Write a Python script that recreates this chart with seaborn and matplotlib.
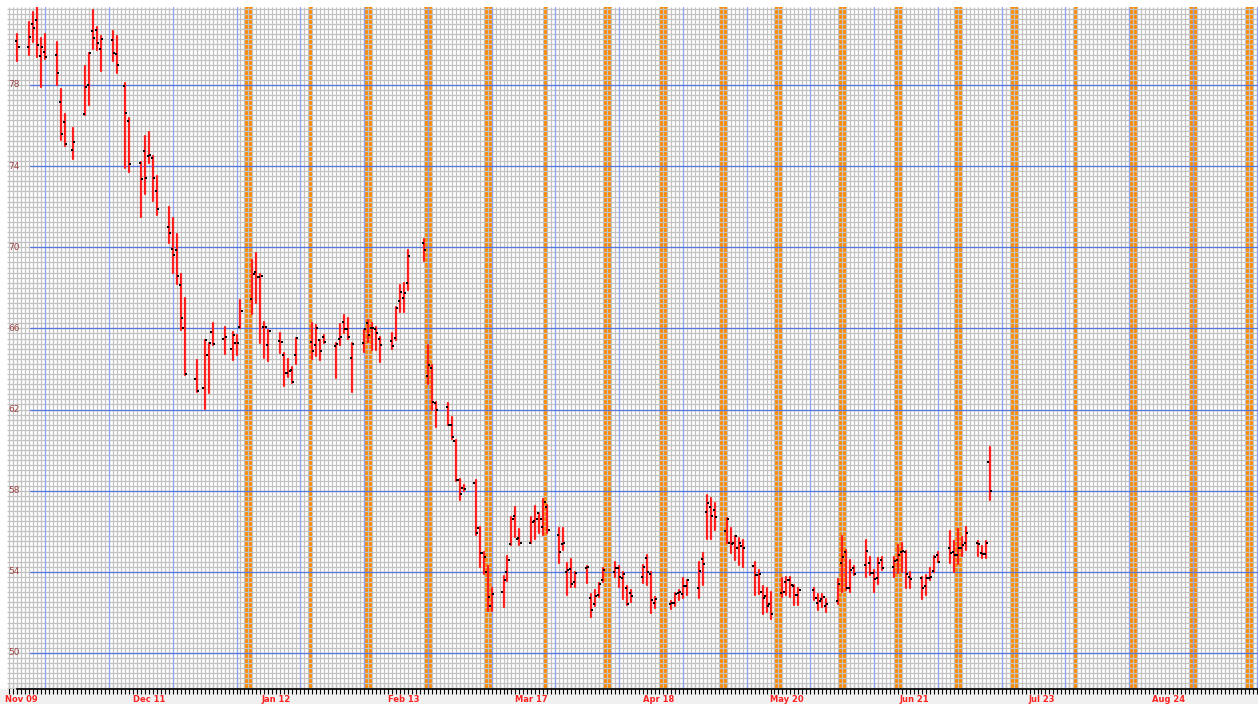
import numpy as np
import pandas as pd
import matplotlib
matplotlib.use("Agg")
import matplotlib.pyplot as plt
from matplotlib.patches import Rectangle
from matplotlib.ticker import MultipleLocator
import seaborn as sns

# sessions, as day offsets from Nov 09 (2024)
days = [-1, 2, 3, 4, 5, 6, 9, 10, 11, 13, 16, 17, 18, 19, 20, 23, 24, 26, 27,
        30, 31, 32, 33, 34, 37, 38, 39, 40, 41, 44, 46, 47, 48, 51, 53, 54, 55,
        58, 59, 60, 61, 62, 65, 66, 67, 68, 69, 73, 74, 75, 76, 79, 80, 81, 82, 83,
        86, 87, 88, 89, 90, 93, 94, 95, 96, 97, 101, 102, 103, 104, 107, 108, 109,
        110, 111, 114, 115, 116, 117, 118, 121, 122, 123, 124, 125, 128, 129, 130,
        131, 132, 135, 136, 137, 138, 139, 142, 143, 144, 145, 146, 149, 150, 151,
        152, 153, 156, 157, 158, 159, 163, 164, 165, 166, 167, 170, 171, 172, 173,
        174, 177, 178, 179, 180, 181, 184, 185, 186, 187, 188, 191, 192, 193, 194,
        195, 199, 200, 201, 202, 205, 206, 207, 208, 209, 212, 213, 214, 215, 216,
        219, 220, 221, 222, 223, 226, 227, 228, 229, 230, 233, 234, 235, 236, 237,
        240, 241, 242, 243]

highs = [80.49, 81.09, 81.59, 82.30, 80.32, 80.49, 80.10, 77.80, 76.57, 75.88, 78.95, 79.60,
         81.72, 80.86, 80.44, 80.68, 80.40, 78.10, 76.37, 74.18, 75.47, 75.68, 74.48, 73.49,
         72.00, 71.43, 70.64, 68.68, 67.48, 64.44, 65.42, 65.26, 66.25, 66.08, 65.84, 65.67,
         67.40, 69.37, 69.74, 68.67, 66.30, 65.92, 65.79, 64.77, 64.47, 64.10, 65.54, 66.28,
         66.15, 65.45, 65.70, 65.26, 66.20, 66.66, 66.50, 65.26, 65.92, 66.40, 66.25, 66.08,
         65.59, 65.75, 67.05, 68.14, 68.22, 69.87, 70.40, 65.18, 64.19, 62.38, 62.30, 61.64,
         60.48, 58.59, 58.26, 58.51, 56.21, 54.97, 54.31, 53.20, 53.80, 54.79, 56.70, 57.20,
         56.12, 56.70, 57.25, 56.90, 57.60, 57.30, 56.16, 56.16, 54.43, 54.62, 54.00, 54.30,
         52.91, 53.10, 53.44, 54.20, 54.50, 54.30, 53.98, 53.30, 53.10, 54.35, 54.84, 54.00,
         52.75, 52.56, 52.95, 53.10, 53.70, 53.60, 54.50, 54.92, 57.80, 57.64, 57.40, 56.65,
         56.16, 55.75, 55.66, 55.58, 54.50, 54.10, 53.30, 53.20, 53.00, 53.69, 53.77, 53.77,
         53.36, 53.20, 53.20, 52.90, 52.93, 52.68, 53.67, 55.76, 55.10, 54.60, 54.30, 55.56,
         54.74, 54.10, 54.66, 54.74, 54.74, 55.30, 55.40, 55.05, 54.00, 53.75, 53.83, 54.20,
         54.80, 55.00, 56.00, 55.50, 56.10, 55.70, 56.20, 55.50, 55.25, 55.50, 60.16]

lows = [79.17, 79.47, 80.12, 79.38, 77.90, 79.28, 78.00, 75.30, 74.97, 74.35, 76.54, 77.03,
        79.79, 79.71, 78.67, 79.17, 78.59, 73.90, 73.69, 71.51, 72.62, 74.15, 72.30, 71.60,
        70.23, 68.72, 68.17, 65.92, 63.70, 62.87, 62.05, 62.82, 65.18, 64.73, 64.44, 64.68,
        66.00, 66.70, 67.24, 65.30, 64.55, 64.40, 64.80, 63.15, 63.60, 63.30, 64.27, 64.50,
        64.63, 64.43, 65.30, 63.58, 65.18, 65.75, 65.50, 62.87, 64.85, 65.34, 64.93, 64.96,
        64.35, 65.00, 65.42, 66.80, 66.80, 67.87, 69.30, 63.28, 61.97, 61.15, 61.23, 60.57,
        58.50, 57.52, 58.00, 55.80, 54.23, 53.90, 52.09, 52.09, 52.25, 53.57, 55.34, 55.70,
        55.30, 55.44, 55.60, 55.90, 55.80, 55.90, 54.43, 55.09, 52.86, 53.27, 53.27, 53.44,
        51.76, 52.30, 52.78, 53.50, 53.77, 53.27, 52.65, 52.35, 52.50, 53.44, 53.35, 51.95,
        52.20, 52.18, 52.30, 52.60, 52.70, 52.85, 52.70, 53.36, 55.60, 55.60, 56.07, 55.42,
        54.92, 54.60, 54.34, 54.26, 52.86, 52.90, 51.90, 52.00, 51.70, 52.78, 52.86, 52.78,
        52.37, 52.37, 52.60, 52.10, 52.27, 52.02, 52.43, 53.00, 53.10, 53.00, 53.85, 53.75,
        53.84, 53.00, 53.42, 54.10, 53.75, 53.95, 54.00, 53.20, 53.20, 52.68, 52.85, 53.60,
        54.00, 54.50, 54.42, 54.00, 54.40, 54.80, 55.10, 54.76, 54.67, 54.67, 57.52]

opens = [80.16, 79.86, 81.00, 81.18, 79.42, 79.61, 79.50, 77.16, 76.19, 74.81, 76.57, 78.00,
         80.68, 80.73, 79.79, 80.24, 79.53, 77.97, 76.24, 74.15, 74.77, 74.48, 74.40, 72.78,
         71.02, 69.90, 69.86, 68.13, 66.00, 63.53, 63.04, 64.68, 65.80, 65.50, 64.97, 65.26,
         66.08, 67.43, 68.79, 68.55, 66.05, 65.20, 65.38, 64.68, 63.80, 63.95, 64.68, 65.33,
         65.20, 65.42, 65.60, 65.13, 65.47, 66.31, 65.95, 64.52, 65.26, 66.28, 66.00, 65.95,
         65.50, 65.38, 65.51, 67.35, 67.48, 68.25, 70.23, 63.66, 64.07, 62.30, 62.14, 61.26,
         60.44, 58.54, 58.15, 58.38, 56.16, 54.94, 53.98, 52.30, 53.00, 54.00, 55.38, 56.75,
         55.66, 55.44, 56.50, 56.90, 56.20, 57.20, 55.80, 55.37, 53.98, 54.15, 53.50, 54.20,
         52.70, 52.40, 52.86, 53.60, 53.98, 54.18, 53.70, 53.20, 52.95, 53.74, 54.67, 53.90,
         52.45, 52.42, 52.45, 52.95, 52.90, 53.32, 53.20, 54.64, 56.93, 57.20, 57.03, 56.00,
         55.42, 55.42, 55.17, 55.28, 54.31, 53.85, 53.00, 52.80, 52.40, 52.95, 53.52, 53.60,
         53.30, 52.85, 53.10, 52.45, 52.68, 52.30, 52.55, 54.44, 55.00, 53.18, 54.20, 54.33,
         54.44, 53.95, 53.70, 54.60, 54.25, 54.60, 55.00, 55.00, 53.75, 53.70, 53.30, 53.72,
         54.05, 54.85, 55.16, 55.00, 54.85, 55.20, 55.40, 55.42, 54.95, 54.90, 59.40]

closes = [79.86, 80.37, 80.83, 79.96, 79.86, 79.37, 78.59, 75.58, 75.10, 75.20, 77.88, 79.58,
          80.32, 80.06, 80.26, 79.58, 78.97, 76.62, 74.12, 73.36, 73.44, 74.54, 73.40, 71.89,
          70.72, 69.62, 68.60, 66.52, 63.73, 62.92, 65.42, 65.26, 65.23, 65.59, 65.67, 65.26,
          66.86, 68.67, 68.55, 68.60, 66.05, 65.85, 65.34, 63.78, 63.90, 63.37, 65.54, 64.90,
          66.04, 64.88, 65.32, 65.23, 65.56, 65.95, 65.56, 65.23, 65.95, 65.67, 66.00, 65.75,
          65.18, 65.13, 67.02, 67.81, 67.76, 69.57, 69.87, 64.19, 62.38, 61.97, 61.26, 60.65,
          58.51, 57.85, 58.10, 55.93, 54.94, 54.74, 52.78, 52.91, 53.60, 54.60, 56.60, 55.63,
          55.40, 56.48, 56.60, 56.60, 57.44, 56.04, 54.97, 55.42, 54.07, 53.40, 53.93, 54.25,
          52.12, 52.83, 53.40, 54.10, 54.20, 53.74, 53.90, 52.40, 52.80, 54.23, 53.97, 52.60,
          52.65, 52.45, 52.90, 53.00, 53.32, 53.60, 54.02, 54.40, 57.40, 56.77, 56.70, 56.62,
          55.38, 55.75, 55.42, 55.20, 53.85, 53.90, 52.70, 52.30, 51.90, 53.03, 53.60, 53.35,
          52.85, 53.10, 52.70, 52.55, 52.77, 52.40, 53.42, 54.75, 53.18, 54.10, 53.90, 55.04,
          53.95, 53.67, 54.45, 54.20, 54.55, 54.85, 55.05, 53.88, 53.65, 53.22, 53.70, 53.75,
          54.75, 54.50, 54.95, 54.85, 55.20, 55.30, 55.90, 55.38, 54.90, 55.40, 58.00]

# orange bands (start day, width in days)
band_start = [56.1, 72.2, 86.0, 101.05, 116.1, 131.2, 146.2, 160.3, 175.1, 189.1,
              205.2, 219.2, 234.0, 248.1, 264.2, 278.2, 293.0, 307.3]
band_width = [2, 1, 2, 2, 2, 1, 2, 2, 2, 2, 2, 2, 2, 2, 1, 2, 2, 2]

tick_days = [0, 32, 64, 96, 128, 160, 192, 224, 256, 288]
tick_labels = ["Nov 09", "Dec 11", "Jan 12", "Feb 13", "Mar 17", "Apr 18",
               "May 20", "Jun 21", "Jul 23", "Aug 24"]
price_levels = [50, 54, 58, 62, 66, 70, 74, 78]

sns.set_style("white")
plt.rcParams['font.family'] = ['DejaVu Sans']

W, H = 1258, 704
fig = plt.figure(figsize=(W / 100, H / 100), dpi=100)
fig.patch.set_facecolor('white')
fig.patches.append(Rectangle((0, 0), 1, 15 / H, transform=fig.transFigure,
                             color='#f0f0f0', zorder=-5))
ax = fig.add_axes([7 / W, 15 / H, 1251 / W, 682 / H])
ax.set_zorder(2)
ax.set_facecolor('white')
ax.set_xlim(-3.59, 310.33)
ax.set_ylim(48.225, 81.845)

# fine background grid
xg = np.arange(-4, 312, 1)
yg = np.arange(48.25, 82.0, 0.25)
ax.vlines(xg, 48.225, 81.845, colors='#c2c2c2', lw=0.9, zorder=1)
ax.hlines(yg, -3.59, 310.33, colors='#c2c2c2', lw=0.9, zorder=1)

# orange bands
for s, w in zip(band_start, band_width):
    ax.axvspan(s, s + w, color='#ff8a00', lw=0, zorder=0.8)

# blue guide lines
for v in np.arange(6, 311, 16):
    ax.axvline(v, color='#8ea4ee', lw=0.9, zorder=1.5)
for lv in price_levels:
    ax.axhline(lv, xmin=23 / 1251, color='#5577e0', lw=0.9, zorder=1.5)
    ax.text(1 / 1251, lv, str(lv), transform=ax.get_yaxis_transform(),
            ha='left', va='center', fontsize=6.5, color='#a04848', zorder=5)

# high-low bars
bars = pd.DataFrame({'day': days * 2, 'price': lows + highs})
sns.lineplot(data=bars, x='day', y='price', units='day', estimator=None,
             color='#ff1f1f', lw=1.6, ax=ax, legend=False, zorder=3)

# open / close marks
sns.scatterplot(x=np.array(days) - 0.3, y=opens, marker='s', s=3, color='black',
                linewidth=0, ax=ax, zorder=4)
sns.scatterplot(x=np.array(days) + 0.3, y=closes, marker='s', s=3, color='black',
                linewidth=0, ax=ax, zorder=4)

ax.set_xlabel('')
ax.set_ylabel('')
ax.set_yticks([])
ax.set_xticks(tick_days)
ax.set_xticklabels(tick_labels, fontsize=6, fontweight='bold', color='#ff2020')
ax.xaxis.set_minor_locator(MultipleLocator(1))
ax.tick_params(axis='x', which='both', bottom=True, direction='inout', length=7,
               width=0.8, color='black', pad=0.5, labelbottom=True)
for side in ['top', 'left', 'right']:
    ax.spines[side].set_visible(False)
ax.spines['bottom'].set_visible(True)
ax.spines['bottom'].set_color('black')
ax.spines['bottom'].set_linewidth(1.2)
ax.spines['bottom'].set_bounds(-1.1, 310.33)

fig.savefig('out.png', dpi=100, facecolor=fig.get_facecolor())
